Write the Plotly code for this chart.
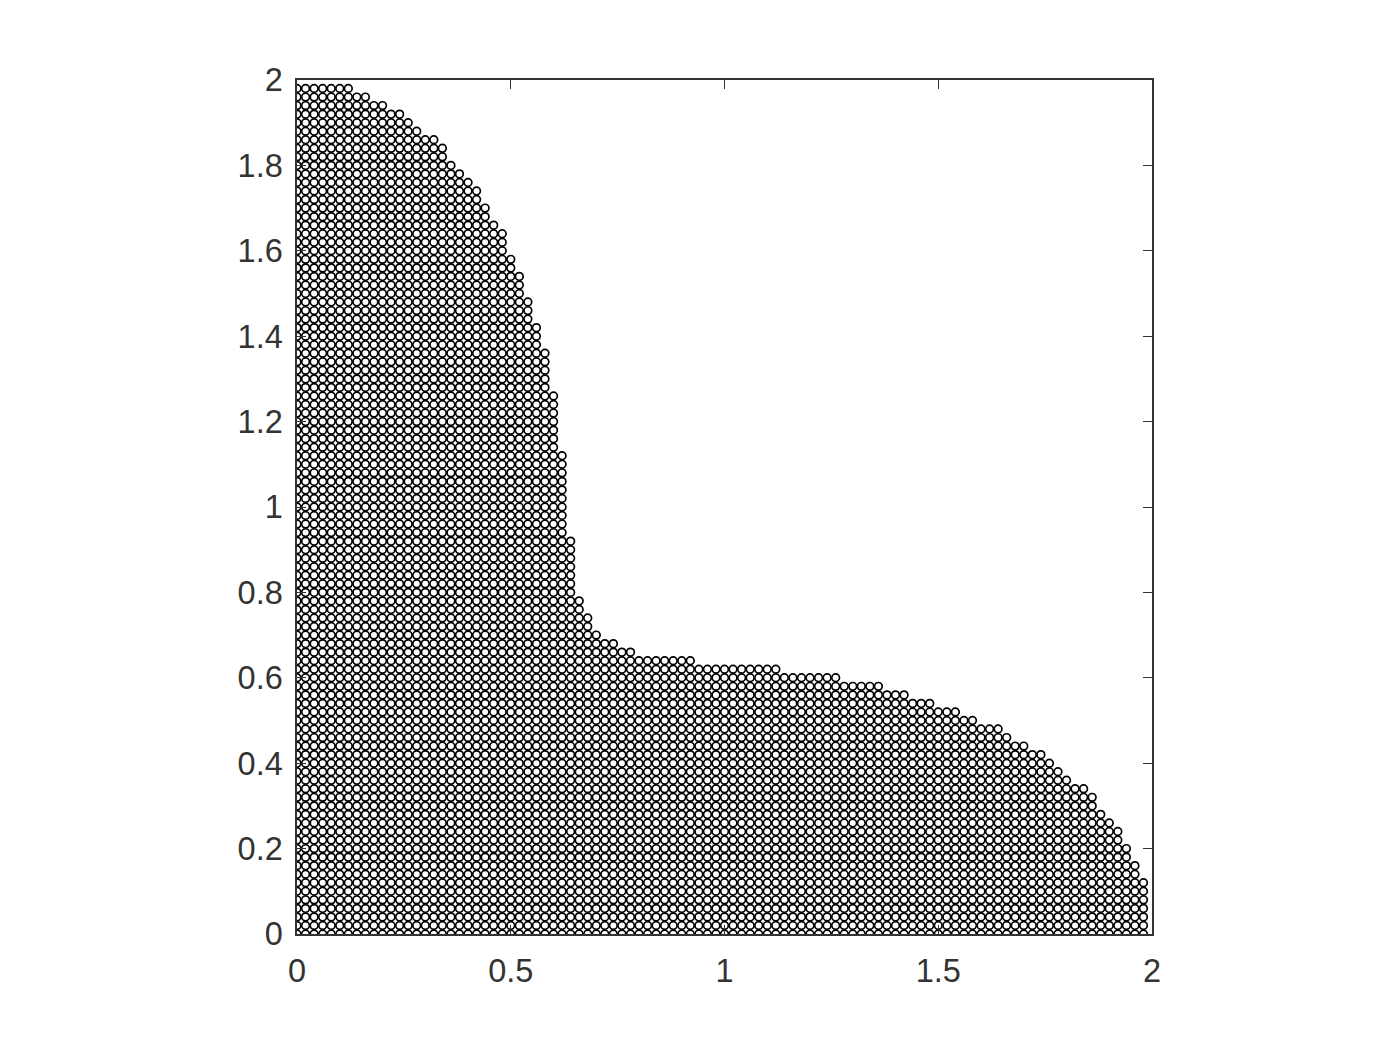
import plotly.graph_objects as go

# Last filled column of each row, bottom row (y=0) to top row (y=1.98); step = 0.02
row_last_col = [
    99, 99, 99, 99, 99, 99, 99, 98, 98, 97,
    97, 96, 96, 95, 94, 93, 93, 92, 90, 89,
    88, 87, 85, 83, 82, 79, 77, 74, 71, 68,
    63, 56, 46, 39, 37, 35, 34, 34, 33, 33,
    32, 32, 32, 32, 32, 32, 32, 31, 31, 31,
    31, 31, 31, 31, 31, 31, 31, 30, 30, 30,
    30, 30, 30, 30, 29, 29, 29, 29, 29, 28,
    28, 28, 27, 27, 27, 26, 26, 26, 25, 25,
    24, 24, 24, 23, 22, 22, 21, 21, 20, 19,
    18, 17, 17, 16, 14, 13, 12, 10, 8, 6,
]
grid_step = 0.02
x_ticks = [0, 0.5, 1, 1.5, 2]
x_labels = ["0", "0.5", "1", "1.5", "2"]
y_ticks = [0, 0.2, 0.4, 0.6, 0.8, 1, 1.2, 1.4, 1.6, 1.8, 2]
y_labels = ["0", "0.2", "0.4", "0.6", "0.8", "1", "1.2", "1.4", "1.6", "1.8", "2"]

xs, ys = [], []
for row, last in enumerate(row_last_col):
    for col in range(last + 1):
        xs.append(round(col * grid_step, 2))
        ys.append(round(row * grid_step, 2))

INK = "#333333"
axis = dict(
    range=[0, 2], showgrid=False, zeroline=False, showline=True, linecolor=INK, linewidth=1.5,
    mirror="allticks", ticks="inside", ticklen=9, tickwidth=1.3, tickcolor=INK,
    tickfont=dict(family="Liberation Sans", size=32.5, color=INK),
)

fig = go.Figure(go.Scatter(
    x=xs, y=ys, mode="markers",
    marker=dict(symbol="circle", size=7.7, color="rgba(255,255,255,0)", line=dict(color="black", width=1.7)),
    showlegend=False,
))
fig.update_layout(
    width=1400, height=1050, autosize=False,
    margin=dict(l=289, r=256, t=72, b=124, pad=0),
    paper_bgcolor="white", plot_bgcolor="white",
    xaxis=dict(axis, tickvals=x_ticks, ticktext=x_labels, ticklabelstandoff=7),
    yaxis=dict(axis, tickvals=y_ticks, ticktext=y_labels, ticklabelstandoff=6),
)
fig.write_html("out.html")
